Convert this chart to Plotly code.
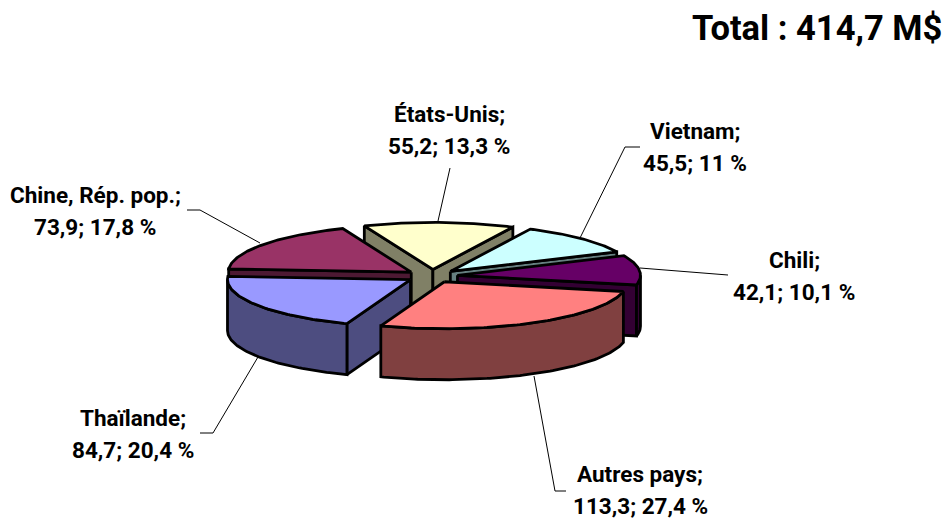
import math
import plotly.graph_objects as go

# ---- data, clockwise from the first slice ----
categories = ["États-Unis", "Vietnam", "Chili", "Autres pays", "Thaïlande", "Chine, Rép. pop."]
values = [55.2, 45.5, 42.1, 113.3, 84.7, 73.9]
percent_labels = ["13,3", "11", "10,1", "27,4", "20,4", "17,8"]
total_label = "414,7"

# ---- styles ----
top_colors = ["#FFFFCC", "#CCFFFF", "#660066", "#FF8080", "#9999FF", "#993366"]
side_colors = ["#808066", "#668080", "#330033", "#804040", "#4D4D80", "#4D1933"]
draw_order = [0, 1, 5, 2, 4, 3]

# ---- projection of the pie onto the page ----
W, H = 945, 519
CX, CY, RX, RY, DEPTH = 432.0, 276.0, 183.0, 47.0, 51.0
EXPLODE = 0.14
START = -22.0
FONT = "Roboto"
LW = 2.8
LINE_GAP = 32

label_pos = [(449, 129.5), (695, 147), (794, 276), (640, 489.5), (133, 433.5), (95, 211)]
leaders = [
    [(438, 221), (450, 168)],
    [(580, 238), (625, 147), (640, 147)],
    [(640, 268), (728, 275)],
    [(534, 376), (555, 491), (566, 491)],
    [(258, 357), (213, 433), (200, 433)],
    [(260, 243), (200, 210), (187, 210)],
]


def pt(ax, ay, deg, r=1.0, drop=0.0):
    a = math.radians(deg)
    return ax + r * RX * math.sin(a), ay - r * RY * math.cos(a) + drop


def arc(ax, ay, a0, a1, drop=0.0):
    n = max(2, int(abs(a1 - a0)) + 1)
    return [pt(ax, ay, a0 + (a1 - a0) * i / n, drop=drop) for i in range(n + 1)]


def poly(fig, points, fill):
    xs = [p[0] for p in points] + [points[0][0]]
    ys = [p[1] for p in points] + [points[0][1]]
    fig.add_trace(go.Scatter(x=xs, y=ys, mode="lines", fill="toself", fillcolor=fill,
                             line=dict(color="black", width=LW), hoverinfo="skip", showlegend=False))


total = sum(values)
spans = []
ang = START
for v in values:
    spans.append((ang, ang + v / total * 360))
    ang += v / total * 360

fig = go.Figure()
for i in draw_order:
    a0, a1 = spans[i]
    mid = (a0 + a1) / 2
    ax, ay = pt(CX, CY, mid, r=EXPLODE)
    side, top = side_colors[i], top_colors[i]
    # cut faces turned towards the viewer
    for edge, normal in ((a0, a0 - 90), (a1, a1 + 90)):
        if math.cos(math.radians(normal)) < 0:
            p = pt(ax, ay, edge)
            poly(fig, [(ax, ay), p, (p[0], p[1] + DEPTH), (ax, ay + DEPTH)], side)
    # outer wall, only the front half of the rim
    lo, hi = max(a0, 90), min(a1, 270)
    if lo < hi:
        poly(fig, arc(ax, ay, lo, hi) + arc(ax, ay, hi, lo, drop=DEPTH), side)
    # top face
    poly(fig, [(ax, ay)] + arc(ax, ay, a0, a1), top)

for seg in leaders:
    fig.add_trace(go.Scatter(x=[p[0] for p in seg], y=[p[1] for p in seg], mode="lines",
                             line=dict(color="black", width=1), hoverinfo="skip", showlegend=False))

for cat, val, pct, (x, y) in zip(categories, values, percent_labels, label_pos):
    lines = (f"<b>{cat};</b>", f"<b>{str(val).replace('.', ',')}; {pct} %</b>")
    for line, yy in zip(lines, (y - LINE_GAP / 2, y + LINE_GAP / 2)):
        fig.add_annotation(x=x, y=yy, text=line, showarrow=False, xanchor="center", yanchor="middle",
                           align="center", font=dict(family=FONT, size=22.5, color="black"))

fig.add_annotation(x=944, y=28, text=f"<b>Total : {total_label} M$</b>", showarrow=False,
                   xanchor="right", yanchor="middle", font=dict(family=FONT, size=34.5, color="black"))

fig.update_layout(width=W, height=H, margin=dict(l=0, r=0, t=0, b=0), autosize=False,
                  paper_bgcolor="white", plot_bgcolor="white", showlegend=False,
                  xaxis=dict(range=[0, W], visible=False, fixedrange=True),
                  yaxis=dict(range=[H, 0], visible=False, fixedrange=True))
fig.write_html("out.html", config={"displayModeBar": False},
               post_script="document.body.style.margin='0';document.body.style.overflow='hidden';")
